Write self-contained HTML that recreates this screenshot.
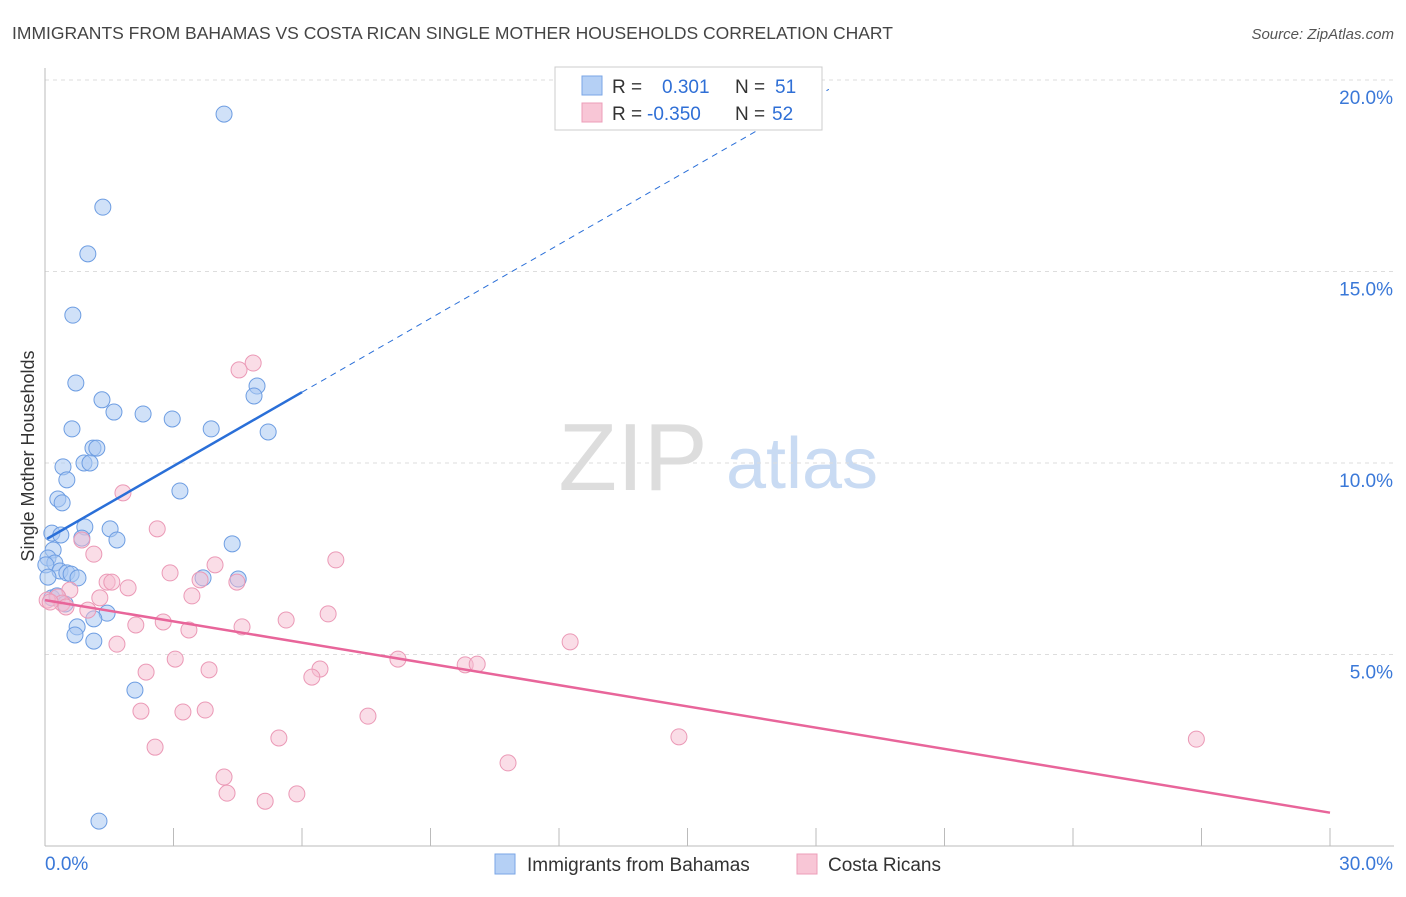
<!DOCTYPE html>
<html><head><meta charset="utf-8"><style>
body{margin:0;background:#fff;font-family:"Liberation Sans",sans-serif}
svg text{font-family:"Liberation Sans",sans-serif}
</style></head><body>
<svg id="chart" width="1406" height="892" xmlns="http://www.w3.org/2000/svg">
<text x="12" y="39" font-size="17.5" fill="#444">IMMIGRANTS FROM BAHAMAS VS COSTA RICAN SINGLE MOTHER HOUSEHOLDS CORRELATION CHART</text>
<text x="1394" y="39" font-size="15" fill="#555" font-style="italic" text-anchor="end">Source: ZipAtlas.com</text>
<text transform="translate(34,456) rotate(-90)" font-size="18" fill="#333" text-anchor="middle">Single Mother Households</text>
<g>
<text x="633" y="490" font-size="96" fill="#ddd" font-family="Liberation Serif" text-anchor="middle">ZIP</text>
<text x="802" y="488" font-size="72" fill="#c9dbf3" text-anchor="middle">atlas</text>
</g>
<g id="grid"></g><g id="axes"></g><g id="marks"></g>
<g>
<rect x="555" y="67" width="267" height="63" fill="#fff" stroke="#ccc"/>
<rect x="582" y="76" width="20" height="19" fill="#b5d0f5" stroke="#7aa6e6"/>
<rect x="582" y="103" width="20" height="19" fill="#f8c6d6" stroke="#ec9db8"/>
<text x="612" y="93" font-size="19" fill="#333">R =</text>
<text x="662" y="93" font-size="19" fill="#2f6fd6">0.301</text>
<text x="735" y="93" font-size="19" fill="#333">N =</text>
<text x="775" y="93" font-size="19" fill="#2f6fd6">51</text>
<text x="612" y="120" font-size="19" fill="#333">R =</text>
<text x="647" y="120" font-size="19" fill="#2f6fd6">-0.350</text>
<text x="735" y="120" font-size="19" fill="#333">N =</text>
<text x="772" y="120" font-size="19" fill="#2f6fd6">52</text>
</g>
<g>
<rect x="495" y="854" width="20" height="20" fill="#b5d0f5" stroke="#7aa6e6"/>
<text x="527" y="871" font-size="19" fill="#333">Immigrants from Bahamas</text>
<rect x="797" y="854" width="20" height="20" fill="#f8c6d6" stroke="#ec9db8"/>
<text x="828" y="871" font-size="19" fill="#333">Costa Ricans</text>
</g>
</svg>
<script>
const blueX=[4.18,1.35,1.00,0.65,0.72,1.33,1.61,2.29,2.97,0.63,3.88,5.21,4.95,4.88,1.12,1.21,0.91,1.05,0.42,0.51,3.15,0.30,0.40,0.16,0.37,0.93,1.52,1.68,0.86,4.37,0.19,0.07,0.23,0.02,0.35,0.51,0.61,0.77,0.07,3.69,4.51,0.16,0.28,0.47,1.45,1.14,0.75,0.70,1.14,2.10,1.26];
const blueY=[19.11,16.68,15.46,13.86,12.09,11.65,11.33,11.28,11.15,10.89,10.89,10.81,12.01,11.75,10.39,10.39,10.00,10.00,9.90,9.56,9.27,9.06,8.96,8.17,8.12,8.33,8.28,7.99,8.04,7.89,7.73,7.52,7.39,7.34,7.18,7.13,7.10,7.00,7.02,7.00,6.97,6.48,6.53,6.32,6.08,5.93,5.72,5.51,5.35,4.07,0.65];
const pinkX=[4.86,4.53,1.82,2.62,0.86,1.14,6.79,3.97,2.92,3.62,1.45,1.56,1.94,4.48,0.58,1.28,3.43,0.30,0.40,0.49,1.00,6.61,5.63,2.76,2.12,3.36,4.60,12.26,1.68,8.24,9.81,10.09,3.04,6.42,3.83,2.36,6.23,7.54,2.24,3.22,3.74,14.80,26.88,5.46,2.57,10.81,4.18,4.25,5.14,5.88,0.05,0.12];
const pinkY=[12.61,12.43,9.22,8.28,7.99,7.62,7.47,7.34,7.13,6.95,6.89,6.89,6.74,6.89,6.68,6.48,6.53,6.50,6.34,6.24,6.16,6.06,5.90,5.85,5.77,5.64,5.72,5.33,5.27,4.88,4.73,4.75,4.88,4.62,4.60,4.54,4.41,3.39,3.52,3.50,3.55,2.85,2.79,2.82,2.58,2.17,1.80,1.38,1.17,1.36,6.42,6.37];
const blueTrend=[7.99,0.643];
const pinkTrend=[6.42,-0.185];
const yTicks=[5,10,15,20];
const xTickLabels=["0.0%","30.0%"];
const NS="http://www.w3.org/2000/svg";
const sx=v=>45+v/30*1285, sy=v=>846-v/5*191.5;
function mk(p,tag,a){const e=document.createElementNS(NS,tag);for(const k in a)e.setAttribute(k,a[k]);document.getElementById(p).appendChild(e);return e;}
yTicks.forEach(t=>{
 const l=mk('grid','line',{x1:45,x2:1394,y1:sy(t),y2:sy(t),stroke:'#ddd','stroke-dasharray':'4,4'});
 
 
 const tx=mk('axes','text',{x:1393,y:sy(t)+24,'font-size':19,fill:'#3a78d8','text-anchor':'end'});tx.textContent=t.toFixed(1)+'%';
 
 
});
const ax=mk('axes','line',{x1:45,x2:1394,y1:846,y2:846,stroke:'#bbb'});


const ay=mk('axes','line',{x1:45,x2:45,y1:68,y2:846,stroke:'#bbb'});


for(let i=0;i<=10;i++){const t=mk('axes','line',{x1:sx(i*3),x2:sx(i*3),y1:828,y2:846,stroke:'#bbb'});
 
 }
[[0,45,'start'],[30,1393,'end']].forEach((d,i)=>{const t=mk('axes','text',{x:d[1],y:870,'font-size':19,fill:'#3a78d8','text-anchor':d[2]});t.textContent=xTickLabels[i];
 
 });
blueX.forEach((x,i)=>{const c=mk('marks','circle',{cx:sx(x),cy:sy(blueY[i]),r:8,fill:'#a9c8f2','fill-opacity':0.55,stroke:'#6d9de2','stroke-width':1});
 
 });
pinkX.forEach((x,i)=>{const c=mk('marks','circle',{cx:sx(x),cy:sy(pinkY[i]),r:8,fill:'#f6bcd0','fill-opacity':0.5,stroke:'#eb99b6','stroke-width':1});
 
 });
const bEnd=6, bDash=18.3;
const b1=mk('marks','line',{x1:sx(0.05),y1:sy(blueTrend[0]+blueTrend[1]*0.05),x2:sx(bEnd),y2:sy(blueTrend[0]+blueTrend[1]*bEnd),stroke:'#2a6fd8','stroke-width':2.5});


const b2=mk('marks','line',{x1:sx(bEnd),y1:sy(blueTrend[0]+blueTrend[1]*bEnd),x2:sx(bDash),y2:sy(blueTrend[0]+blueTrend[1]*bDash),stroke:'#2a6fd8','stroke-width':1,'stroke-dasharray':'6,5'});


const p1=mk('marks','line',{x1:sx(0),y1:sy(pinkTrend[0]),x2:sx(30),y2:sy(pinkTrend[0]+pinkTrend[1]*30),stroke:'#e8659a','stroke-width':2.5});


</script>
</body></html>
